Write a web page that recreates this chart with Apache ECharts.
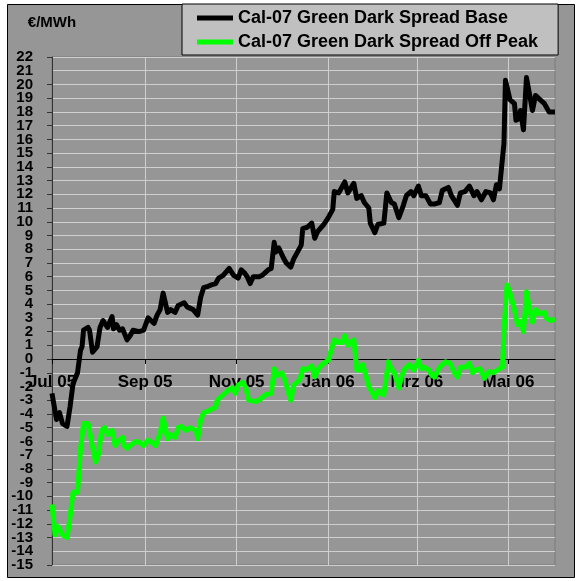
<!DOCTYPE html>
<html>
<head>
<meta charset="utf-8">
<script src="https://cdn.jsdelivr.net/npm/echarts@6/dist/echarts.min.js"></script>
<style>
  html, body { margin: 0; padding: 0; background: #fff; }
  #chart { width: 581px; height: 581px; }
</style>
</head>
<body>
<div id="chart"></div>
<script>
// x = Tage ab 1. Juli 2005
const seriesNames = ['Cal-07 Green Dark Spread Base', 'Cal-07 Green Dark Spread Off Peak'];

// Base (schwarz)
const baseDays = [0, 3, 5, 7, 10, 12, 14, 17, 19, 20, 21, 24, 25, 27, 30, 32, 34, 37, 40, 41,
  43, 45, 47, 50, 52, 54, 58, 61, 64, 68, 70, 72, 74, 77, 79, 82, 84, 88, 90, 94,
  97, 99, 101, 104, 106, 109, 111, 114, 118, 121, 124, 126, 128, 130, 132, 134, 138, 140, 144, 146,
  148, 149, 151, 154, 156, 159, 161, 164, 166, 167, 170, 173, 175, 177, 181, 184, 187, 188, 191, 195,
  197, 201, 203, 206, 208, 211, 212, 215, 217, 221, 223, 226, 228, 231, 234, 236, 239, 241, 244, 246,
  249, 252, 255, 258, 260, 264, 266, 270, 272, 275, 278, 281, 283, 286, 289, 292, 294, 296, 298, 299,
  301, 302, 305, 308, 309, 311, 312, 314, 316, 320, 322, 325, 328, 331, 335];
const baseValues = [-2.5, -4.4, -3.9, -4.7, -4.9, -3.5, -1.8, -1.0, 0.65, 0.9, 2.1, 2.3, 2.1, 0.5, 0.9, 2.3, 2.8, 2.3, 3.1, 2.2,
  2.5, 2.1, 2.2, 1.4, 1.7, 2.1, 2.0, 2.1, 3.0, 2.6, 3.2, 3.6, 4.8, 3.4, 3.6, 3.4, 3.9, 4.1, 3.8, 3.6,
  3.2, 4.5, 5.2, 5.3, 5.4, 5.5, 5.9, 6.1, 6.6, 6.1, 5.9, 6.5, 6.3, 6.0, 5.5, 6.0, 6.0, 6.1, 6.5, 6.6,
  8.5, 7.8, 8.1, 7.4, 7.0, 6.7, 7.3, 7.9, 8.3, 9.5, 9.6, 9.9, 8.8, 9.3, 9.8, 10.3, 10.9, 12.2, 12.1, 12.9,
  12.1, 12.8, 11.7, 11.9, 11.4, 11.0, 9.9, 9.2, 9.8, 9.9, 12.1, 11.4, 11.3, 10.3, 11.2, 11.9, 12.2, 11.9, 12.6, 11.9,
  11.9, 11.3, 11.3, 11.4, 12.3, 12.5, 11.9, 11.2, 12.1, 12.2, 12.6, 11.9, 12.2, 11.6, 12.2, 12.1, 11.6, 12.7, 12.4, 12.5,
  15.7, 20.3, 18.9, 18.6, 17.4, 17.5, 18.1, 16.7, 20.5, 18.1, 19.2, 18.9, 18.6, 18.0, 18.0];

// Off Peak (grün)
const offPeakDays = [0, 2, 4, 7, 10, 12, 14, 17, 19, 21, 24, 27, 29, 31, 33, 35, 37, 40, 42, 44,
  47, 48, 50, 52, 56, 59, 61, 64, 67, 69, 72, 74, 77, 79, 82, 84, 86, 89, 92, 96,
  97, 99, 101, 104, 107, 109, 110, 114, 117, 120, 122, 124, 127, 129, 131, 132, 136, 139, 142, 146,
  148, 150, 153, 155, 157, 159, 161, 165, 167, 169, 173, 175, 178, 181, 184, 185, 188, 191, 193, 195,
  197, 201, 203, 205, 207, 209, 211, 215, 217, 219, 221, 224, 226, 228, 231, 233, 235, 238, 241, 244,
  246, 248, 251, 253, 255, 258, 262, 265, 268, 270, 272, 275, 278, 280, 282, 285, 288, 291, 294, 298,
  300, 301, 303, 305, 308, 310, 312, 314, 316, 318, 320, 322, 325, 328, 329, 332, 335];
const offPeakValues = [-10.6, -12.8, -12.2, -12.8, -13.0, -11.5, -9.7, -9.7, -6.5, -4.7, -4.7, -6.4, -7.5, -6.9, -5.2, -5.0, -5.5, -5.2, -6.3, -6.0,
  -5.7, -6.3, -6.5, -6.3, -6.0, -6.1, -6.3, -5.9, -6.1, -6.3, -5.4, -4.3, -5.8, -5.5, -5.7, -5.0, -4.9, -5.2, -5.0, -5.2,
  -5.8, -4.4, -3.9, -3.8, -3.6, -3.5, -3.0, -2.6, -2.3, -2.1, -2.5, -1.9, -1.7, -2.1, -3.0, -3.0, -3.1, -2.9, -2.6, -2.5,
  -0.7, -1.2, -1.0, -1.5, -2.3, -3.0, -1.9, -1.5, -0.7, -0.8, -0.5, -1.3, -0.6, -0.3, -0.1, 0.3, 1.4, 1.2, 1.2, 1.7,
  1.0, 1.4, -0.8, -0.8, -0.4, -1.2, -2.0, -2.8, -2.3, -2.5, -2.6, -0.2, -0.7, -1.0, -2.1, -1.2, -0.7, -0.4, -0.8, -0.1,
  -0.7, -0.6, -0.8, -1.2, -1.3, -0.6, -0.2, -0.3, -1.0, -1.3, -0.6, -0.6, -0.3, -1.0, -0.8, -0.7, -1.4, -0.9, -1.0, -0.7,
  -0.6, 2.1, 5.4, 4.8, 3.6, 2.5, 2.7, 2.0, 4.9, 3.7, 2.7, 3.6, 3.3, 3.4, 3.0, 2.8, 2.9];

// Achsenbeschriftung (Monatsanfänge)
const tickDays = [0, 62, 123, 184, 243, 304];
const tickLabels = ['Jul 05', 'Sep 05', 'Nov 05', 'Jan 06', 'Mrz 06', 'Mai 06'];
const xMaxDay = 335;
const yMin = -15;
const yMax = 22;

const font = '"Liberation Sans", Arial, sans-serif';

// Plotfläche
const gridTop = 57;
const gridBottom = 16;
const plotHeight = 581 - gridTop - gridBottom;
// x-Achse liegt auf der Nulllinie
const xAxisOffset = -plotHeight * (0 - yMin) / (yMax - yMin);

const yLabelStyle = { margin: 19, fontFamily: font, fontSize: 15, fontWeight: 'bold', color: '#000000' };

const chart = echarts.init(document.getElementById('chart'));
chart.setOption({
  animation: false,
  backgroundColor: '#ffffff',
  textStyle: { fontFamily: font },
  graphic: [
    {
      type: 'rect',
      z: -100,
      silent: true,
      shape: { x: 7.5, y: 4.5, width: 567, height: 573 },
      style: { fill: '#969696', stroke: '#000000', lineWidth: 1 }
    }
  ],
  legend: {
    left: 182,
    top: 4,
    orient: 'vertical',
    backgroundColor: '#c0c0c0',
    borderColor: '#000000',
    borderWidth: 1,
    padding: [4, 20, 3, 15],
    itemWidth: 36,
    itemHeight: 5,
    itemGap: 4,
    icon: 'rect',
    textStyle: {
      fontFamily: font,
      fontSize: 18,
      fontWeight: 'bold',
      color: '#000000',
      lineHeight: 20
    },
    data: seriesNames
  },
  grid: {
    left: 52,
    right: 26,
    top: gridTop,
    bottom: gridBottom,
    containLabel: false,
    outerBoundsMode: 'none',
    show: true,
    backgroundColor: '#969696',
    borderColor: '#7a7a7a',
    borderWidth: 1
  },
  xAxis: {
    type: 'value',
    min: 0,
    max: xMaxDay,
    position: 'bottom',
    offset: xAxisOffset,
    axisLine: { onZero: false, lineStyle: { color: '#000000', width: 1 } },
    axisTick: { show: true, length: 5, customValues: tickDays, lineStyle: { color: '#000000' } },
    axisLabel: {
      customValues: tickDays,
      margin: 15,
      fontFamily: font,
      fontSize: 17,
      fontWeight: 'bold',
      color: '#000000',
      formatter: v => {
        const i = tickDays.indexOf(v);
        return i >= 0 ? tickLabels[i] : '';
      }
    },
    splitLine: { show: true, lineStyle: { color: '#cfcfcf', width: 1 } }
  },
  yAxis: [
    {
      type: 'value',
      position: 'left',
      min: yMin,
      max: yMax,
      interval: 1,
      name: '€/MWh',
      nameLocation: 'end',
      nameGap: 27,
      nameTextStyle: { fontFamily: font, fontSize: 15, fontWeight: 'bold', color: '#000000', align: 'center' },
      axisLine: { show: true, lineStyle: { color: '#333333', width: 1 } },
      axisTick: { show: true, length: 5, lineStyle: { color: '#333333' } },
      axisLabel: Object.assign({ showMinLabel: true, showMaxLabel: true }, yLabelStyle),
      splitLine: { show: true, lineStyle: { color: '#cfcfcf', width: 1 } }
    },
    {
      // ergänzt die Beschriftungen neben Minimum und Maximum
      type: 'value',
      position: 'left',
      offset: 0,
      min: yMin,
      max: yMax,
      interval: 1,
      axisLine: { show: false },
      axisTick: { show: false },
      splitLine: { show: false },
      axisLabel: Object.assign({
        showMinLabel: false,
        showMaxLabel: false,
        formatter: v => (v === yMin + 1 || v === yMax - 1) ? String(v) : ''
      }, yLabelStyle)
    }
  ],
  series: [
    {
      name: seriesNames[0],
      type: 'line',
      showSymbol: false,
      color: '#000000',
      lineStyle: { width: 5, color: '#000000', join: 'round' },
      data: baseDays.map((d, i) => [d, baseValues[i]])
    },
    {
      name: seriesNames[1],
      type: 'line',
      showSymbol: false,
      color: '#00ff00',
      lineStyle: { width: 5, color: '#00ff00', join: 'round' },
      data: offPeakDays.map((d, i) => [d, offPeakValues[i]])
    }
  ]
});
</script>
</body>
</html>
